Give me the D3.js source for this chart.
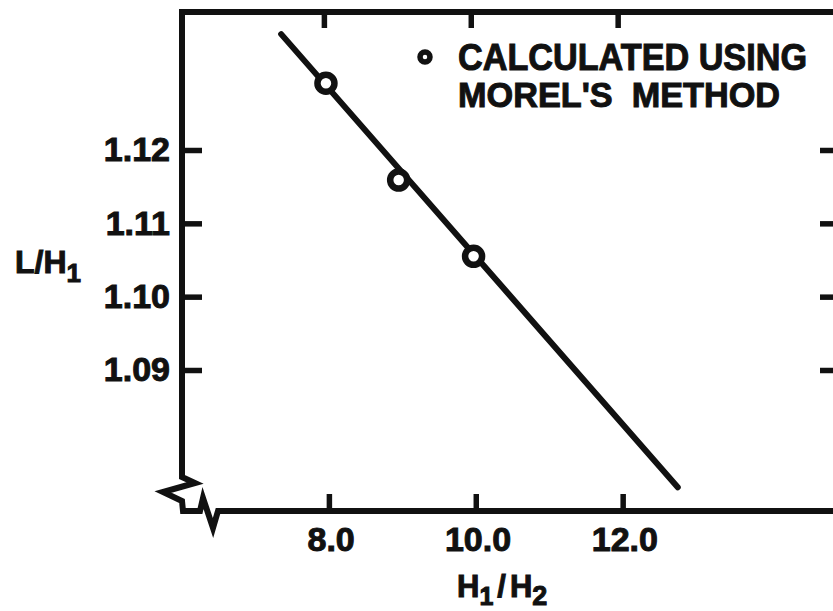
<!DOCTYPE html>
<html>
<head>
<meta charset="utf-8">
<script src="https://cdn.jsdelivr.net/npm/d3@7/dist/d3.min.js"></script>
<style>
  html, body { margin: 0; padding: 0; background: #ffffff; }
  svg { display: block; }
  text { font-family: "Liberation Sans", Arial, sans-serif; font-weight: bold; fill: #111; stroke: #111; stroke-width: 1px; }
</style>
</head>
<body>
<svg id="chart" width="833" height="611"></svg>
<script>
// ---- data ----
const pointX = [7.96, 8.95, 9.97];          // H1/H2 of calculated points
const pointY = [1.1291, 1.1159, 1.1055];    // L/H1 of calculated points
const lineX = [7.35, 12.75];                // fitted line ends, H1/H2
const lineY = [1.1358, 1.0740];             // fitted line ends, L/H1
const xTicks = [8, 10, 12];
const xTickLabels = ["8.0", "10.0", "12.0"];
const yTicks = [1.09, 1.10, 1.11, 1.12];
const yTickLabels = ["1.09", "1.10", "1.11", "1.12"];
const legendLines = ["CALCULATED USING", "MOREL'S  METHOD"];

// ---- layout ----
const W = 833, H = 611;
const plotLeft = 182, plotRight = 843, plotTop = 12, plotBottom = 511;
const ink = "#111";

const svg = d3.select("#chart");

const x = d3.scaleLinear().domain([6, 15]).range([plotLeft, plotRight]);
const y = d3.scaleLinear().domain([1.09, 1.12]).range([370, 150]);

// frame with axis break at lower-left corner
const framePath = d3.path();
framePath.moveTo(W + 5, plotTop);
framePath.lineTo(plotLeft, plotTop);
framePath.lineTo(plotLeft, plotBottom - 34);
framePath.lineTo(plotLeft + 13, plotBottom - 28);
framePath.lineTo(plotLeft - 19, plotBottom - 19);
framePath.lineTo(plotLeft, plotBottom - 10);
framePath.lineTo(plotLeft + 1, plotBottom);
framePath.lineTo(plotLeft + 18, plotBottom);
framePath.lineTo(plotLeft + 21, plotBottom - 13);
framePath.lineTo(plotLeft + 31, plotBottom + 17);
framePath.lineTo(plotLeft + 36, plotBottom);
framePath.lineTo(W + 5, plotBottom);
svg.append("path")
  .attr("d", framePath.toString())
  .attr("fill", "none")
  .attr("stroke", ink)
  .attr("stroke-width", 6)
  .attr("stroke-linejoin", "miter");

function styleAxis(g) {
  g.select(".domain").remove();
  g.selectAll(".tick line").attr("stroke", ink).attr("stroke-width", 5.5);
  g.selectAll(".tick text").attr("fill", ink)
    .style("font-family", '"Liberation Sans", Arial, sans-serif')
    .style("font-weight", "bold").style("font-size", "34px");
}

// bottom axis
svg.append("g").attr("transform", `translate(0,${plotBottom})`)
  .call(d3.axisBottom(x).tickValues(xTicks).tickSize(-17).tickPadding(16)
    .tickFormat((d) => xTickLabels[xTicks.indexOf(d)]))
  .call(styleAxis)
  .selectAll(".tick text").attr("dx", "0.05em");

// top axis (ticks only)
svg.append("g").attr("transform", `translate(-5,${plotTop})`)
  .call(d3.axisTop(x).tickValues(xTicks).tickSize(-16).tickFormat(""))
  .call(styleAxis);

// left axis
svg.append("g").attr("transform", `translate(${plotLeft},0)`)
  .call(d3.axisLeft(y).tickValues(yTicks).tickSize(-20).tickPadding(12)
    .tickFormat((d) => yTickLabels[yTicks.indexOf(d)]))
  .call(styleAxis);

// right axis (ticks only, axis line just off the page)
svg.append("g").attr("transform", `translate(${plotRight},0)`)
  .call(d3.axisRight(y).tickValues(yTicks).tickSize(-23).tickFormat(""))
  .call(styleAxis);

// fitted line
const lineData = lineX.map((v, i) => [v, lineY[i]]);
svg.append("path")
  .datum(lineData)
  .attr("d", d3.line().x(d => x(d[0])).y(d => y(d[1])))
  .attr("fill", "none")
  .attr("stroke", ink)
  .attr("stroke-width", 6)
  .attr("stroke-linecap", "round");

// calculated points
svg.selectAll("circle.pt")
  .data(pointX.map((v, i) => [v, pointY[i]]))
  .join("circle")
  .attr("class", "pt")
  .attr("cx", d => x(d[0]))
  .attr("cy", d => y(d[1]))
  .attr("r", 8.5)
  .attr("fill", "#fff")
  .attr("stroke", ink)
  .attr("stroke-width", 6.5);

// legend
const leg = svg.append("g");
leg.append("circle").attr("cx", 425).attr("cy", 57).attr("r", 5)
  .attr("fill", "#fff").attr("stroke", ink).attr("stroke-width", 5.5);
leg.append("text").attr("x", 458).attr("y", 70)
  .attr("textLength", 349).attr("lengthAdjust", "spacingAndGlyphs")
  .style("font-size", "36px").text(legendLines[0]);
leg.append("text").attr("x", 458).attr("y", 107)
  .attr("textLength", 322).attr("lengthAdjust", "spacingAndGlyphs")
  .style("font-size", "35px").style("white-space", "pre").text(legendLines[1]);

// y axis title L/H1
const yt = svg.append("text").attr("x", 15).attr("y", 273)
  .style("font-size", "32px");
yt.append("tspan").text("L/H");
yt.append("tspan").attr("dy", 9).style("font-size", "26px").text("1");

// x axis title H1/H2
const xt = svg.append("text").attr("x", 457).attr("y", 597)
  .style("font-size", "31px");
xt.append("tspan").text("H");
xt.append("tspan").attr("dy", 8).style("font-size", "25px").text("1");
xt.append("tspan").attr("dy", -8).attr("dx", 4).text("/");
xt.append("tspan").attr("dx", 4).text("H");
xt.append("tspan").attr("dy", 8).style("font-size", "27px").text("2");
</script>
</body>
</html>
